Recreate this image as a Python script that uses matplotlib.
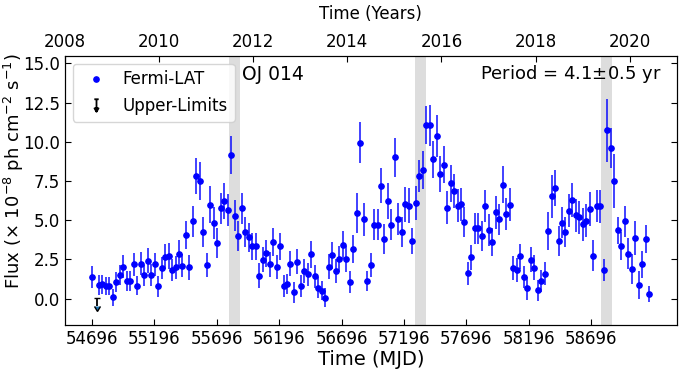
import numpy as np
import matplotlib
matplotlib.use("Agg")
import matplotlib.pyplot as plt
from matplotlib.lines import Line2D
from matplotlib.path import Path

# monthly-ish bins (MJD)
mjd = [
    54696, 54752, 54780, 54808, 54836, 54863, 54891, 54919, 54947,
    54975, 55003, 55031, 55059, 55087, 55115, 55142, 55170, 55198, 55226,
    55254, 55282, 55310, 55338, 55366, 55394, 55421, 55449, 55477, 55505,
    55533, 55561, 55589, 55617, 55645, 55673, 55700, 55728, 55756, 55784,
    55812, 55840, 55868, 55896, 55924, 55952, 55979, 56007, 56035, 56063,
    56091, 56119, 56147, 56175, 56203, 56231, 56258, 56286, 56314, 56342,
    56370, 56398, 56426, 56454, 56482, 56510, 56537, 56565, 56593, 56621,
    56649, 56677, 56705, 56733, 56761, 56789, 56816, 56844, 56872, 56900,
    56928, 56956, 56984, 57012, 57040, 57068, 57095, 57123, 57151, 57179,
    57207, 57235, 57263, 57291, 57319, 57347, 57374, 57402, 57430, 57458,
    57486, 57514, 57542, 57570, 57598, 57626, 57653, 57681, 57709, 57737,
    57765, 57793, 57821, 57849, 57877, 57905, 57932, 57960, 57988, 58016,
    58044, 58072, 58100, 58128, 58156, 58184, 58211, 58239, 58267, 58295,
    58323, 58351, 58379, 58407, 58435, 58463, 58490, 58518, 58546, 58574,
    58602, 58630, 58658, 58686, 58714, 58742, 58769, 58797, 58825, 58853,
    58881, 58909, 58937, 58965, 58993, 59021, 59048, 59076, 59104, 59132,
    59160,
]

flux = [
    1.38, 0.87, 0.91, 0.81, 0.81, 0.09, 1.06, 1.49, 2.04, 1.13,
    1.13, 2.19, 0.83, 2.23, 1.49, 2.42, 1.51, 2.19, 0.78, 1.95,
    2.66, 2.72, 1.83, 1.99, 2.87, 2.10, 4.04, 1.99, 4.93, 7.81,
    7.52, 4.24, 2.12, 6.00, 4.82, 3.56, 5.75, 6.24, 5.65, 9.14,
    5.29, 4.01, 5.76, 4.27, 3.90, 3.34, 3.34, 1.47, 2.47, 2.89,
    2.18, 3.60, 2.01, 3.34, 0.82, 0.93, 2.24, 0.40, 2.34, 0.80,
    1.75, 1.55, 2.83, 1.43, 0.70, 0.50, 0.05, 2.03, 2.77, 1.75,
    2.52, 3.41, 2.52, 1.04, 3.15, 5.44, 9.93, 5.07, 1.10, 2.15,
    4.72, 4.72, 7.20, 3.81, 6.23, 4.72, 9.00, 5.07, 4.23, 6.01,
    5.93, 3.68, 6.10, 7.81, 8.21, 11.06, 11.06, 8.88, 10.36, 7.94,
    8.55, 5.80, 7.35, 6.87, 5.93, 6.02, 4.90, 1.62, 2.64, 4.48,
    4.48, 3.97, 5.91, 4.38, 3.59, 5.52, 5.06, 7.26, 5.39, 5.99,
    1.97, 1.84, 2.71, 1.39, 0.67, 2.49, 1.98, 0.53, 1.14, 1.60,
    4.33, 6.52, 7.06, 3.69, 4.85, 4.27, 5.60, 6.30, 5.31, 5.20,
    4.75, 4.97, 5.70, 2.75, 5.90, 5.90, 1.84, 10.73, 9.62, 7.51,
    4.35, 3.34, 4.94, 2.86, 1.91, 3.88, 0.89, 2.19, 3.80, 0.31,
]

flux_err = [
    0.72, 0.62, 0.62, 0.60, 0.60, 0.55, 0.62, 0.65, 0.72, 0.62,
    0.62, 0.75, 0.62, 0.75, 0.68, 0.78, 0.68, 0.75, 0.65, 0.72,
    0.80, 0.80, 0.72, 0.72, 0.90, 0.75, 0.88, 0.80, 1.00, 1.13,
    1.20, 0.95, 0.77, 1.15, 1.00, 0.95, 1.00, 1.15, 1.00, 1.20,
    1.00, 0.95, 1.00, 0.95, 0.90, 0.85, 0.85, 0.78, 0.80, 0.85,
    0.78, 0.90, 0.75, 0.85, 0.70, 0.65, 0.80, 0.65, 0.80, 0.70,
    0.75, 0.72, 0.85, 0.72, 0.65, 0.60, 0.60, 0.80, 0.85, 0.75,
    0.85, 0.90, 0.85, 0.70, 0.90, 1.27, 1.30, 1.05, 0.64, 0.75,
    1.00, 1.00, 1.10, 0.95, 1.15, 1.00, 1.25, 1.00, 0.95, 1.10,
    1.10, 0.83, 1.10, 1.04, 1.20, 1.22, 1.30, 1.17, 1.35, 1.13,
    1.17, 1.06, 1.20, 1.10, 1.05, 1.05, 0.95, 0.72, 0.80, 1.00,
    1.00, 0.95, 1.00, 1.00, 0.90, 1.05, 1.00, 1.17, 1.00, 1.05,
    0.75, 0.75, 0.80, 0.72, 0.74, 0.80, 0.80, 0.65, 0.70, 0.72,
    1.20, 1.35, 1.15, 0.95, 1.00, 0.95, 1.05, 1.10, 1.05, 1.05,
    1.05, 1.05, 1.10, 1.00, 1.00, 1.05, 0.70, 2.00, 1.27, 1.73,
    0.87, 0.90, 0.98, 1.00, 0.95, 1.10, 0.90, 0.85, 0.87, 0.50,
]

ul_mjd = [54735]
ul_flux = [0.05]
ul_len = [0.55]

# flare windows (shaded)
band_start = [55794, 57285, 58775]
band_end = [55882, 57370, 58863]

mjd_ticks = [54696, 55196, 55696, 56196, 56696, 57196, 57696, 58196, 58696]
year_ticks = [2008, 2010, 2012, 2014, 2016, 2018, 2020]

fig = plt.figure(figsize=(6.82, 3.70), dpi=100)
ax = fig.add_axes([0.0946, 0.1208, 0.8981, 0.7292])

for s, e in zip(band_start, band_end):
    ax.axvspan(s, e, color="#dddddd", lw=0, zorder=0)

ax.errorbar(mjd, flux, yerr=flux_err, fmt="none", ecolor="blue",
            elinewidth=1.3, alpha=0.8, zorder=2)
ax.plot(mjd, flux, "o", color="blue", ms=3.8, zorder=3)
ax.errorbar(ul_mjd, ul_flux, yerr=ul_len, uplims=True, fmt="none", ecolor="k",
            elinewidth=1.3, capsize=2.5, zorder=3)

# legend symbols: dot, and a capped down-arrow for the limits
ul_symbol = Path(
    [(-0.35, 1.0), (0.35, 1.0), (0.0, 1.0), (0.0, -1.0),
     (-0.32, -0.45), (0.0, -1.0), (0.32, -0.45), (-0.32, -0.45)],
    [Path.MOVETO, Path.LINETO, Path.MOVETO, Path.LINETO,
     Path.MOVETO, Path.LINETO, Path.LINETO, Path.CLOSEPOLY],
)
handles = [
    Line2D([], [], ls="none", marker="o", color="blue", ms=3.8),
    Line2D([], [], ls="none", marker=ul_symbol, color="k", ms=9, mew=1.3),
]

ax.set_xlim(54476, 59384)
ax.set_ylim(-1.7, 15.5)
ax.set_xticks(mjd_ticks)
ax.set_yticks([0, 2.5, 5, 7.5, 10, 12.5, 15])
ax.set_yticklabels(["0.0", "2.5", "5.0", "7.5", "10.0", "12.5", "15.0"])
ax.tick_params(direction="in", labelsize=12, right=True, length=4)
ax.set_xlabel("Time (MJD)", fontsize=14, labelpad=1)
ax.set_ylabel(r"Flux ($\times$ 10$^{-8}$ ph cm$^{-2}$ s$^{-1}$)", fontsize=13)
ax.yaxis.set_label_coords(-0.063, 0.57)

ax.text(0.29, 0.93, "OJ 014", transform=ax.transAxes, fontsize=13.5,
        ha="left", va="center")
ax.text(0.975, 0.93, "Period = 4.1$\\pm$0.5 yr", transform=ax.transAxes,
        fontsize=13, ha="right", va="center")

ax.legend(handles, ["Fermi-LAT", "Upper-Limits"], loc="upper left",
          fontsize=12, handletextpad=0.6, borderaxespad=0.5)

top = ax.twiny()
top.set_xlim(2008, 2021)
top.set_xticks(year_ticks)
top.tick_params(direction="in", labelsize=12, length=4)
top.set_xlabel("Time (Years)", fontsize=12, labelpad=10)

fig.savefig("out.png", dpi=100)
